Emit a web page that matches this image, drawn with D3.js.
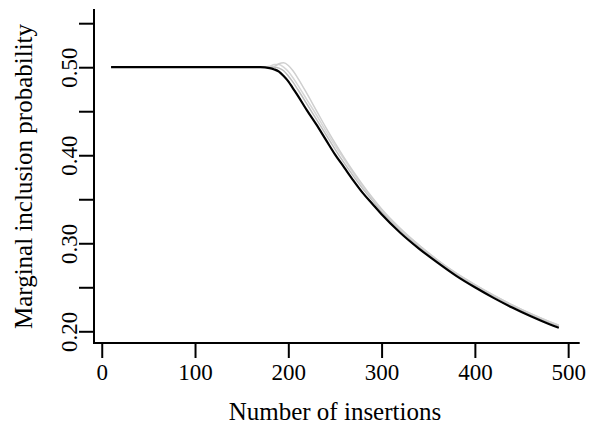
<!DOCTYPE html>
<html>
<head>
<meta charset="utf-8">
<script src="https://cdn.jsdelivr.net/npm/d3@7"></script>
<style>
  html, body { margin: 0; padding: 0; background: #ffffff; }
  svg { display: block; }
  text { font-family: "Liberation Serif", "DejaVu Serif", serif; fill: #000; }
</style>
</head>
<body>
<script>
// ---- data ----
const insertions = [10, 50, 100, 150, 170, 180, 185, 190, 195, 200, 205, 210, 220, 230, 240, 250, 260, 270, 280, 290, 300, 320, 340, 360, 380, 400, 420, 440, 460, 480, 490];

const grayRunA = [0.500, 0.500, 0.500, 0.500, 0.500, 0.501, 0.503, 0.503, 0.500, 0.495, 0.488, 0.480, 0.463, 0.446, 0.428, 0.411, 0.395, 0.379, 0.364, 0.351, 0.338, 0.316, 0.298, 0.281, 0.266, 0.253, 0.241, 0.230, 0.220, 0.211, 0.207];
const grayRunB = [0.500, 0.500, 0.500, 0.500, 0.500, 0.500, 0.501, 0.504, 0.505, 0.502, 0.496, 0.488, 0.470, 0.451, 0.432, 0.414, 0.397, 0.381, 0.366, 0.352, 0.339, 0.317, 0.298, 0.281, 0.266, 0.253, 0.241, 0.230, 0.220, 0.211, 0.207];
const grayRunC = [0.500, 0.500, 0.500, 0.500, 0.500, 0.500, 0.500, 0.499, 0.496, 0.490, 0.483, 0.475, 0.458, 0.441, 0.424, 0.407, 0.391, 0.376, 0.362, 0.349, 0.336, 0.315, 0.296, 0.280, 0.265, 0.252, 0.240, 0.229, 0.219, 0.210, 0.206];
const blackLine = [0.500, 0.500, 0.500, 0.500, 0.500, 0.499, 0.4975, 0.495, 0.490, 0.484, 0.476, 0.468, 0.451, 0.435, 0.418, 0.401, 0.386, 0.371, 0.357, 0.345, 0.333, 0.312, 0.294, 0.278, 0.263, 0.250, 0.238, 0.227, 0.217, 0.208, 0.204];

const xTicks = [0, 100, 200, 300, 400, 500];
const yTicks = [0.20, 0.25, 0.30, 0.35, 0.40, 0.45, 0.50, 0.55];
const yTickLabels = { "0.2": "0.20", "0.3": "0.30", "0.4": "0.40", "0.5": "0.50" };

const xTitle = "Number of insertions";
const yTitle = "Marginal inclusion probability";

// ---- layout ----
const W = 591, H = 428;
const svg = d3.select("body").append("svg").attr("width", W).attr("height", H);

const x = d3.scaleLinear().domain([-8.3, 511.3]).range([94, 578.7]);
const y = d3.scaleLinear().domain([0.1867, 0.565]).range([343, 10]);

const line = d3.line()
  .x((d, i) => x(insertions[i]))
  .y(d => y(d))
  .curve(d3.curveMonotoneX);

const plot = svg.append("g");
[[grayRunC, "#bdbdbd"], [grayRunA, "#d6d6d6"], [grayRunB, "#cfcfcf"]].forEach(([vals, col]) => {
  plot.append("path").attr("d", line(vals))
    .attr("fill", "none").attr("stroke", col).attr("stroke-width", 1.5);
});
plot.append("path").attr("d", line(blackLine))
  .attr("fill", "none").attr("stroke", "#000").attr("stroke-width", 2.2);

// ---- axes ----
const xAxis = d3.axisBottom(x).tickValues(xTicks).tickSize(15).tickFormat(d3.format("d"));
const gx = svg.append("g").attr("transform", `translate(0,${y.range()[0]})`).call(xAxis);
gx.select(".domain").remove();
gx.selectAll(".tick line").attr("stroke", "#000").attr("stroke-width", 2);
gx.selectAll(".tick text").attr("y", 37).attr("dy", 0)
  .style("font-size", "23px");

const yAxis = d3.axisLeft(y).tickValues(yTicks).tickSize(15)
  .tickFormat(d => yTickLabels[String(+d.toFixed(2))] || "");
const gy = svg.append("g").attr("transform", `translate(${x.range()[0]},0)`).call(yAxis);
gy.select(".domain").remove();
gy.selectAll(".tick line").attr("stroke", "#000").attr("stroke-width", 2);
gy.selectAll(".tick text")
  .attr("x", null).attr("dy", null)
  .attr("transform", "translate(-17,0) rotate(-90)")
  .attr("text-anchor", "middle")
  .style("font-size", "23px");

// L-shaped box
svg.append("path")
  .attr("d", `M${x.range()[0]},${y.range()[1]} V${y.range()[0]} H${x.range()[1]}`)
  .attr("fill", "none").attr("stroke", "#000").attr("stroke-width", 2)
  .attr("stroke-linecap", "square");

// titles
svg.append("text")
  .attr("x", (x(0) + x(500)) / 2).attr("y", 420)
  .attr("text-anchor", "middle").style("font-size", "25px")
  .text(xTitle);

svg.append("text")
  .attr("transform", `translate(32,${(y.range()[0] + y.range()[1]) / 2}) rotate(-90)`)
  .attr("text-anchor", "middle").style("font-size", "25px")
  .text(yTitle);
</script>
</body>
</html>
